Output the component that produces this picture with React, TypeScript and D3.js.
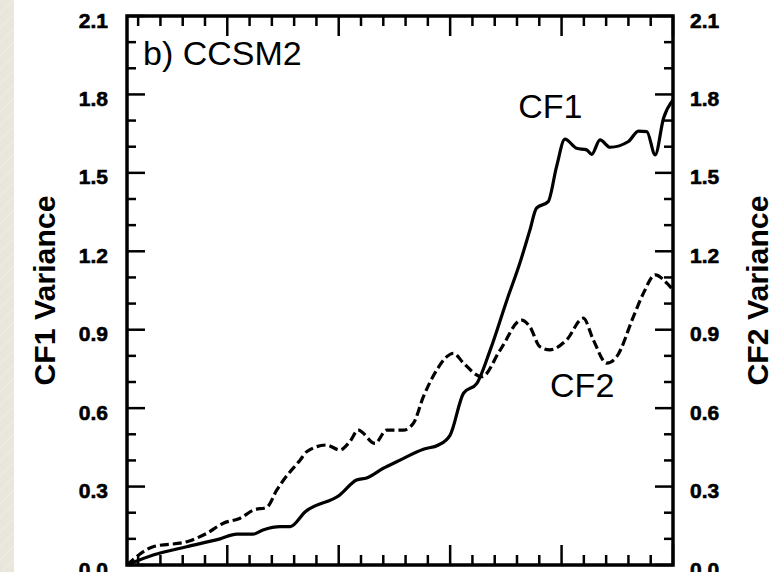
import * as d3 from "d3";

// x (model year), variance
const cf1Years = [2, 6.7, 12.7, 18.7, 21.7, 24.6, 26.4, 29.5, 31.3, 34, 40.2, 43.2, 45, 48, 50.4, 55.2, 57.9, 60, 62.4, 64.8, 67.2, 70.2, 72.5, 74.3, 75.5, 77.6, 79.1, 80.6, 82.7, 84.5, 85.4, 86.9, 88.7, 92, 93.8, 95.3, 96.8, 98.3, 100];
const cf1Values = [0, 0.038, 0.07, 0.1, 0.118, 0.118, 0.134, 0.147, 0.147, 0.204, 0.268, 0.325, 0.333, 0.37, 0.395, 0.443, 0.459, 0.497, 0.657, 0.695, 0.823, 1.014, 1.154, 1.28, 1.365, 1.39, 1.524, 1.629, 1.594, 1.588, 1.571, 1.626, 1.598, 1.62, 1.66, 1.658, 1.569, 1.709, 1.779];

const cf2Years = [2, 6.7, 12.7, 16.3, 19.3, 22.3, 24.7, 27.1, 28.9, 30.1, 33.1, 34.3, 37.8, 40.2, 42, 43.5, 46.5, 48.6, 51.6, 53.4, 55.2, 57.6, 59.4, 60.6, 62.4, 65.7, 69, 72.8, 74.3, 76.1, 77.9, 80.9, 83.9, 85.7, 88.1, 89.9, 92.9, 94.7, 96.8, 98.9, 100];
const cf2Values = [0, 0.07, 0.089, 0.121, 0.16, 0.179, 0.21, 0.221, 0.287, 0.325, 0.402, 0.434, 0.459, 0.44, 0.472, 0.516, 0.465, 0.516, 0.516, 0.542, 0.644, 0.746, 0.797, 0.81, 0.772, 0.72, 0.823, 0.937, 0.912, 0.835, 0.823, 0.861, 0.944, 0.861, 0.772, 0.797, 0.95, 1.04, 1.11, 1.078, 1.052];

const yTickLabels = ["0.0", "0.3", "0.6", "0.9", "1.2", "1.5", "1.8", "2.1"];

const width = 773;
const height = 572;
const margin = { left: 127, right: 100, top: 16, bottom: 7 };
const font = "'Liberation Sans', Arial, Helvetica, sans-serif";

export default function App() {
  const x = d3.scaleLinear().domain([2, 100]).range([margin.left, width - margin.right]);
  const y = d3.scaleLinear().domain([0, 2.1]).range([height - margin.bottom, margin.top]);

  const line = d3
    .line<[number, number]>()
    .x((d) => x(d[0]))
    .y((d) => y(d[1]))
    .curve(d3.curveMonotoneX);

  const cf1 = cf1Years.map((t, i) => [t, cf1Values[i]] as [number, number]);
  const cf2 = cf2Years.map((t, i) => [t, cf2Values[i]] as [number, number]);

  const xMinor = d3.range(4, 100, 4).filter((v) => v % 20 !== 0);
  const xMajor = d3.range(20, 101, 20);
  const yMinor = d3.range(0, 2.1001, 0.1).filter((_, i) => i % 3 !== 0);
  const yMajor = yTickLabels.map(Number);

  const x0 = x.range()[0];
  const x1 = x.range()[1];
  const y0 = y.range()[0];
  const y1 = y.range()[1];

  return (
    <svg
      width={width}
      height={height}
      style={{ position: "absolute", left: 0, top: 0, background: "#fff" }}
    >
      <defs>
        <pattern id="diag" width="14" height="14" patternUnits="userSpaceOnUse">
          <rect width="14" height="14" fill="#e9e6dc" />
          <line x1="0" y1="14" x2="14" y2="0" stroke="#f2f0e9" strokeWidth="0.8" />
        </pattern>
        <clipPath id="plot">
          <rect x={x0} y={y1} width={x1 - x0} height={y0 - y1} />
        </clipPath>
      </defs>
      <rect x={0} y={0} width={14} height={height} fill="url(#diag)" />

      <g clipPath="url(#plot)" fill="none" stroke="#000">
        <path d={line(cf1) ?? ""} strokeWidth={3.2} strokeLinejoin="round" />
        <path d={line(cf2) ?? ""} strokeWidth={3.2} strokeDasharray="9,4" />
      </g>

      <g stroke="#000" strokeWidth={2.5}>
        {xMinor.map((v) => (
          <g key={"xm" + v}>
            <line x1={x(v)} x2={x(v)} y1={y0} y2={y0 - 10} />
            <line x1={x(v)} x2={x(v)} y1={y1} y2={y1 + 10} />
          </g>
        ))}
        {xMajor.map((v) => (
          <g key={"xM" + v}>
            <line x1={x(v)} x2={x(v)} y1={y0} y2={y0 - 20} />
            <line x1={x(v)} x2={x(v)} y1={y1} y2={y1 + 20} />
          </g>
        ))}
        {yMinor.map((v) => (
          <g key={"ym" + v}>
            <line x1={x0} x2={x0 + 9} y1={y(v)} y2={y(v)} />
            <line x1={x1} x2={x1 - 9} y1={y(v)} y2={y(v)} />
          </g>
        ))}
        {yMajor.map((v) => (
          <g key={"yM" + v}>
            <line x1={x0} x2={x0 + 18} y1={y(v)} y2={y(v)} />
            <line x1={x1} x2={x1 - 18} y1={y(v)} y2={y(v)} />
          </g>
        ))}
      </g>
      <rect
        x={x0}
        y={y1}
        width={x1 - x0}
        height={y0 - y1}
        fill="none"
        stroke="#000"
        strokeWidth={3.5}
      />

      <g fontFamily={font} fontWeight="bold" fontSize={21} stroke="#000" strokeWidth={0.6}>
        {yTickLabels.map((lab) => (
          <g key={lab}>
            <text x={108} y={y(Number(lab)) + 4} textAnchor="end" dominantBaseline="central">
              {lab}
            </text>
            <text x={690} y={y(Number(lab)) + 4} textAnchor="start" dominantBaseline="central">
              {lab}
            </text>
          </g>
        ))}
      </g>

      <g fontFamily={font} fontWeight="bold" fontSize={30}>
        <text
          transform={`translate(55, ${(y0 + y1) / 2}) rotate(-90)`}
          textAnchor="middle"
          textLength={190}
          lengthAdjust="spacingAndGlyphs"
        >
          CF1 Variance
        </text>
        <text
          transform={`translate(768, ${(y0 + y1) / 2}) rotate(-90)`}
          textAnchor="middle"
          textLength={190}
          lengthAdjust="spacingAndGlyphs"
        >
          CF2 Variance
        </text>
      </g>

      <g fontFamily={font} fontSize={34} fill="#000">
        <text x={143} y={65}>b) CCSM2</text>
        <text x={x(78)} y={118} textAnchor="middle">CF1</text>
        <text x={x(83.7)} y={397} textAnchor="middle">CF2</text>
      </g>
    </svg>
  );
}
